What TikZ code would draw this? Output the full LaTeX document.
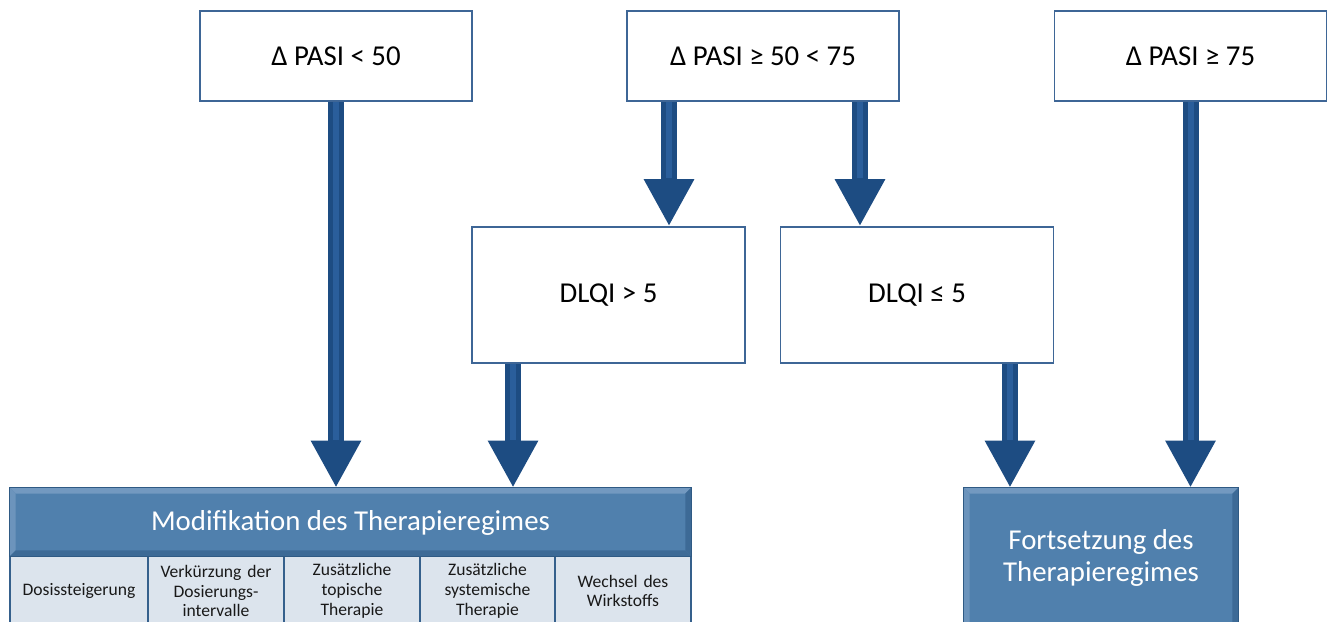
\documentclass[tikz,border=0pt]{standalone}
\usepackage{fontspec}
\setmainfont{Carlito}
\usetikzlibrary{arrows.meta,calc}

\definecolor{boxline}{HTML}{3E6696}
\definecolor{arrowblue}{HTML}{1D4C82}
\definecolor{arrowlight}{HTML}{2A5E9B}
\definecolor{headblue}{HTML}{5080AD}
\definecolor{headdark}{HTML}{2F5A84}
\definecolor{headlight}{HTML}{7399C0}
\definecolor{headshade}{HTML}{3D6A96}
\definecolor{cellfill}{HTML}{DCE4ED}
\definecolor{cellline}{HTML}{35608C}

% bevelled edges of a blue box (light top/left, dark bottom/right)
\newcommand\bevelbox[1]{%
  \fill[headlight] (#1.north west) -- (#1.north east) -- ($(#1.north east)+(-6,6)$) -- ($(#1.north west)+(6,6)$) -- cycle;
  \fill[headlight!80!headblue] (#1.north west) -- ($(#1.north west)+(6,6)$) -- ($(#1.south west)+(6,-6)$) -- (#1.south west) -- cycle;
  \fill[headshade] (#1.south west) -- ($(#1.south west)+(6,-6)$) -- ($(#1.south east)+(-6,-6)$) -- (#1.south east) -- cycle;
  \fill[headshade] (#1.north east) -- ($(#1.north east)+(-6,6)$) -- ($(#1.south east)+(-6,-6)$) -- (#1.south east) -- cycle;
  \draw[headdark, line width=0.6pt] (#1.north west) rectangle (#1.south east);
}

\begin{document}
\begin{tikzpicture}[x=0.02cm, y=-0.02cm,
  crit/.style={draw=boxline, line width=0.9pt, fill=white, inner sep=0pt,
    font=\fontsize{16.4}{20}\selectfont, text=black},
  topbox/.style={crit, minimum width=5.44cm, minimum height=1.8cm},
  midbox/.style={crit, minimum width=5.46cm, minimum height=2.72cm},
  result/.style={fill=headblue, inner sep=0pt, text=white,
    font=\fontsize{16.4}{18.7}\selectfont, align=center},
  cellbox/.style={draw=cellline, line width=0.6pt, fill=cellfill, inner sep=0pt,
    minimum height=1.4cm, text width=2.65cm, align=center,
    font=\fontsize{10}{11.3}\selectfont, text=black!90},
  flow/.style={draw=arrowblue, line width=0.32cm,
    -{Triangle[width=0.94cm,length=0.94cm]},
    postaction={draw=arrowlight, line width=0.12cm, -, shorten >=0.96cm}}
]
\useasboundingbox (0,0) rectangle (1333,622);

% criteria
\node[topbox] (p1) at (336,56)    {Δ PASI < 50};
\node[topbox] (p2) at (763,56)    {Δ PASI ≥ 50 < 75};
\node[topbox] (p3) at (1190.5,56) {Δ PASI ≥ 75};
\node[midbox] (d1) at (608.5,295) {DLQI > 5};
\node[midbox] (d2) at (917,295)   {DLQI ≤ 5};

% outcomes
\node[result, minimum width=13.62cm, minimum height=1.36cm] (mod) at (350.5,522) {};
\node[cellbox, minimum width=2.76cm] (c1) at (79,591)    {Dosissteigerung};
\node[cellbox, minimum width=2.72cm] (c2) at (216,591)   {Verkürzung der\\Dosierungs-\\intervalle};
\node[cellbox, minimum width=2.72cm] (c3) at (352,591)   {Zusätzliche\\topische\\Therapie};
\node[cellbox, minimum width=2.70cm] (c4) at (487.5,591) {Zusätzliche\\systemische\\Therapie};
\node[cellbox, minimum width=2.72cm] (c5) at (623,591)   {Wechsel des\\Wirkstoffs};
\node[result, minimum width=5.48cm, minimum height=2.96cm] (fort) at (1101,562) {};
\bevelbox{mod}
\bevelbox{fort}
\node[result, fill=none] (modtext) at ([yshift=-0.02cm]mod.center) {Modifikation des Therapieregimes};
\node[result, fill=none] (forttext) at ([yshift=0.08cm]fort.center) {Fortsetzung des\\Therapieregimes};

% arrow start points below the criteria boxes
\coordinate (s2) at ([xshift=-1.88cm]p2.south);
\coordinate (s3) at ([xshift=1.94cm]p2.south);
\coordinate (s4) at ([xshift=-1.91cm]d1.south);
\coordinate (s5) at ([xshift=1.86cm]d2.south);

% connectors
\draw[flow] (p1.south) -- (p1.south |- mod.north);
\draw[flow] (s2) -- (s2 |- d1.north);
\draw[flow] (s3) -- (s3 |- d2.north);
\draw[flow] (s4) -- (s4 |- mod.north);
\draw[flow] (s5) -- (s5 |- fort.north);
\draw[flow] (p3.south) -- (p3.south |- fort.north);
\end{tikzpicture}
\end{document}
